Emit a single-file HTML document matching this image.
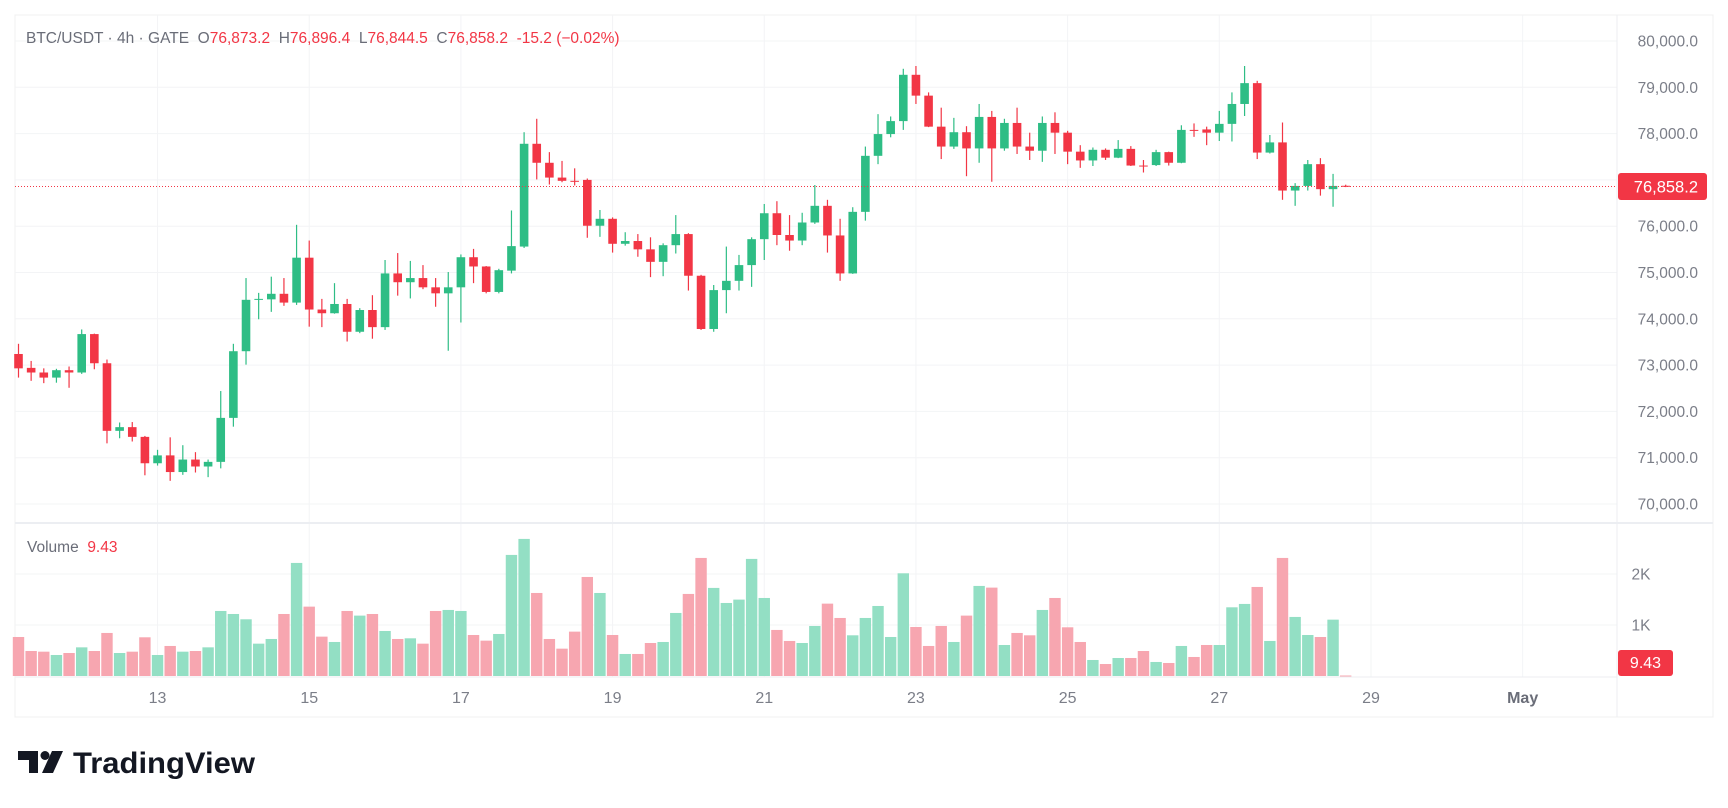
<!DOCTYPE html>
<html><head><meta charset="utf-8"><style>
html,body{margin:0;padding:0;background:#fff;width:1728px;height:808px;overflow:hidden;font-family:"Liberation Sans",sans-serif}
svg{display:block}
.pre{white-space:pre}
</style></head><body>
<svg id="chart" width="1728" height="808" viewBox="0 0 1728 808" xmlns="http://www.w3.org/2000/svg">
<rect x="15" y="15" width="1698" height="702" fill="#fff" stroke="#f0f0f0" stroke-width="1"/>
<g id="grid"></g>
<g id="candles"></g>
<g id="volumes"></g>
<line x1="15" y1="523" x2="1713" y2="523" stroke="#eceef2" stroke-width="2"/>
<line x1="1617" y1="15" x2="1617" y2="717" stroke="#eceef2" stroke-width="1"/>
<line x1="15" y1="677" x2="1617" y2="677" stroke="#eceef2" stroke-width="1"/>
<g id="yaxis" font-size="15.5" fill="#7b7e88" text-anchor="end"></g>
<g id="xaxis" font-size="16" fill="#7b7e88" text-anchor="middle"></g>
<g id="vaxis" font-size="15.5" fill="#7b7e88" text-anchor="middle"></g>
<text class="pre" x="26" y="43" font-size="15.5"><tspan fill="#6a6d78">BTC/USDT · 4h · GATE  O</tspan><tspan fill="#f23645">76,873.2</tspan><tspan fill="#6a6d78">  H</tspan><tspan fill="#f23645">76,896.4</tspan><tspan fill="#6a6d78">  L</tspan><tspan fill="#f23645">76,844.5</tspan><tspan fill="#6a6d78">  C</tspan><tspan fill="#f23645">76,858.2  -15.2 (−0.02%)</tspan></text>
<text class="pre" x="27" y="552" font-size="15.5"><tspan fill="#6a6d78">Volume  </tspan><tspan fill="#f23645">9.43</tspan></text>
<g>
<path d="M18 751h20v22h-9v-13h-11z" fill="#131722"/>
<circle cx="45" cy="755.5" r="4.5" fill="#131722"/>
<path d="M52 751h11l-10 22h-11z" fill="#131722"/>
<text x="73" y="773" font-size="30" font-weight="bold" fill="#131722" textLength="182" lengthAdjust="spacingAndGlyphs">TradingView</text>
</g>
</svg>
<script>
const opens=[73240,72940,72840,72730,72890,72840,73670,73040,71580,71660,71450,70880,71050,70690,70960,70810,70910,71860,73300,74410,74420,74540,74350,75320,74200,74120,74320,73720,74190,73820,74980,74790,74880,74680,74550,74680,75330,75130,74580,75040,75560,77780,77370,77050,76980,77000,76010,76160,75620,75680,75500,75230,75590,75830,74930,73780,74620,74820,75160,75720,76280,75810,75690,76080,76440,75800,74980,76310,77520,77990,78270,79270,78820,78150,77720,78030,77680,78360,77680,78230,77720,77630,78230,78020,77610,77420,77650,77480,77670,77310,77320,77600,77370,78080,78090,78020,78210,78640,79090,77590,77810,76770,76870,77340,76800,76873.2];
const highs=[73460,73090,72930,72920,72970,73770,73680,73120,71760,71770,71470,71170,71440,71270,71120,70960,72440,73460,74880,74560,74910,74880,76030,75690,74430,74770,74430,74230,74510,75270,75420,75250,75160,74880,75010,75390,75510,75140,75080,76340,78030,78320,77600,77410,77250,77030,76350,76190,75870,75830,75760,75630,76240,75850,74950,74730,75560,75380,75760,76480,76540,76240,76290,76890,76570,76160,76410,77720,78420,78370,79400,79460,78890,78560,78340,78160,78640,78490,78320,78560,78020,78370,78460,78060,77750,77700,77680,77860,77730,77430,77650,77610,78180,78220,78150,78490,78890,79460,79140,77970,78240,76930,77430,77470,77130,76896.4];
const lows=[72730,72660,72610,72620,72510,72810,72910,71310,71420,71350,70620,70830,70500,70630,70680,70580,70770,71670,73010,73990,74150,74280,74300,73830,73820,74110,73510,73690,73570,73760,74500,74440,74640,74260,73310,73920,74770,74550,74550,74980,75530,77010,76900,76950,76880,75750,75770,75430,75580,75340,74900,74920,75410,74610,73760,73720,74120,74610,74690,75270,75590,75470,75590,76050,75430,74820,74970,76120,77340,77920,78080,78640,78140,77450,77670,77080,77370,76960,77630,77560,77430,77390,77560,77340,77260,77300,77430,77470,77300,77160,77300,77310,77360,77930,77750,77840,77830,78380,77450,77570,76570,76440,76770,76660,76420,76844.5];
const closes=[72930,72840,72730,72890,72840,73670,73040,71580,71660,71450,70880,71050,70690,70960,70810,70910,71860,73300,74410,74430,74540,74350,75320,74200,74120,74320,73720,74190,73820,74980,74790,74880,74680,74550,74680,75330,75130,74580,75050,75570,77780,77370,77050,76980,76970,76010,76160,75620,75680,75500,75230,75590,75830,74930,73780,74620,74820,75160,75720,76280,75810,75690,76080,76440,75800,74980,76310,77520,77990,78270,79270,78820,78150,77720,78030,77680,78360,77680,78230,77720,77630,78230,78020,77610,77420,77650,77480,77670,77310,77300,77600,77370,78080,78070,78020,78210,78640,79090,77590,77810,76770,76870,77340,76800,76870,76858.2];
const volumes=[765,490,477,412,451,562,490,844,451,477,759,412,589,477,490,562,1275,1216,1112,634,726,1216,2217,1360,772,667,1275,1184,1216,883,726,739,634,1275,1295,1275,804,693,824,2374,2688,1628,726,536,870,1942,1628,804,432,432,647,667,1236,1609,2315,1727,1432,1498,2296,1530,903,687,647,981,1419,1138,798,1138,1373,765,2014,961,589,981,667,1184,1766,1733,608,844,798,1295,1530,955,667,314,235,353,353,490,275,255,589,373,608,608,1347,1413,1746,687,2315,1158,804,765,1105,9.43];
const priceTicks=[80000,79000,78000,77000,76000,75000,74000,73000,72000,71000,70000];
const volTicks=[2000,1000];
const volTickLabels=["2K","1K"];
const dayLabels=["13","15","17","19","21","23","25","27","29","May"];
const dayOffsets=[0,2,4,6,8,10,12,14,16,18];

const NS="http://www.w3.org/2000/svg";
function el(tag,attrs,parent){const e=document.createElementNS(NS,tag);for(const k in attrs)e.setAttribute(k,attrs[k]);parent.appendChild(e);return e;}
const X0=18.5, STEP=12.64, FIRST_DAY_IDX=11;
function xAt(i){return X0+i*STEP;}
function yPrice(p){return 41+(80000-p)*0.04630;}
function yVol(v){return 676-v*0.0510;}
const UP="#2ebd85", DN="#f23645", VUP="#93dfc4", VDN="#f7a6b0";

const grid=document.getElementById('grid');
const yaxis=document.getElementById('yaxis');
priceTicks.forEach(p=>{
  const g=el('line',{x1:15,x2:1617,y1:yPrice(p),y2:yPrice(p),stroke:'#f3f4f6','stroke-width':1},grid);
  
  
  if(Math.abs(p-77000)<1) return;
  const t=el('text',{x:1698,y:yPrice(p)+5.5},yaxis);
  t.textContent=p.toLocaleString('en-US',{minimumFractionDigits:1,maximumFractionDigits:1});
  
  
});
const xaxis=document.getElementById('xaxis');
dayLabels.forEach((d,k)=>{
  const x=xAt(FIRST_DAY_IDX+dayOffsets[k]*6);
  const g=el('line',{x1:x,x2:x,y1:15,y2:677,stroke:'#f3f4f6','stroke-width':1},grid);
  
  
  const t=el('text',{x:x,y:703},xaxis);
  t.textContent=d;
  if(d==='May'){t.setAttribute('font-weight','bold');t.setAttribute('fill','#6a6d78');}
  
  
});
const vaxis=document.getElementById('vaxis');
volTicks.forEach((v,k)=>{
  const g=el('line',{x1:15,x2:1617,y1:yVol(v),y2:yVol(v),stroke:'#f3f4f6','stroke-width':1},grid);
  
  
  const t=el('text',{x:1641,y:yVol(v)+5.5},vaxis);
  t.textContent=volTickLabels[k];
  
  
});

const cg=document.getElementById('candles');
const vg=document.getElementById('volumes');
for(let i=0;i<opens.length;i++){
  const up=closes[i]>=opens[i];
  const col=up?UP:DN;
  const x=xAt(i);
  const w=el('line',{x1:x,x2:x,y1:yPrice(highs[i]),y2:yPrice(lows[i]),stroke:col,'stroke-width':1.2},cg);
  
  
  const top=yPrice(Math.max(opens[i],closes[i])), bot=yPrice(Math.min(opens[i],closes[i]));
  const b=el('rect',{x:x-4.3,y:top,width:8.6,height:Math.max(1,bot-top),fill:col},cg);
  
  
  const vy=yVol(volumes[i]);
  const vb=el('rect',{x:x-5.7,y:vy,width:11.4,height:Math.max(1,676-vy),fill:up?VUP:VDN},vg);
  
  
}
const svg=document.getElementById('chart');
const lp=closes[closes.length-1];
const pl=el('line',{x1:15,x2:1617,y1:yPrice(lp),y2:yPrice(lp),stroke:'#f23645','stroke-width':1,'stroke-dasharray':'1 2'},svg);


const pr=el('rect',{x:1618,y:yPrice(lp)-13.5,width:89,height:27,rx:3,fill:'#f23645'},svg);


const pt=el('text',{x:1698,y:yPrice(lp)+6,'font-size':16.5,fill:'#fff','text-anchor':'end'},svg);
pt.textContent=lp.toLocaleString('en-US',{minimumFractionDigits:1});


const lv=volumes[volumes.length-1];
const vr=el('rect',{x:1618,y:650,width:55,height:26,rx:3,fill:'#f23645'},svg);


const vt=el('text',{x:1645.5,y:668,'font-size':16,fill:'#fff','text-anchor':'middle'},svg);
vt.textContent=String(lv);


</script>
</body></html>
